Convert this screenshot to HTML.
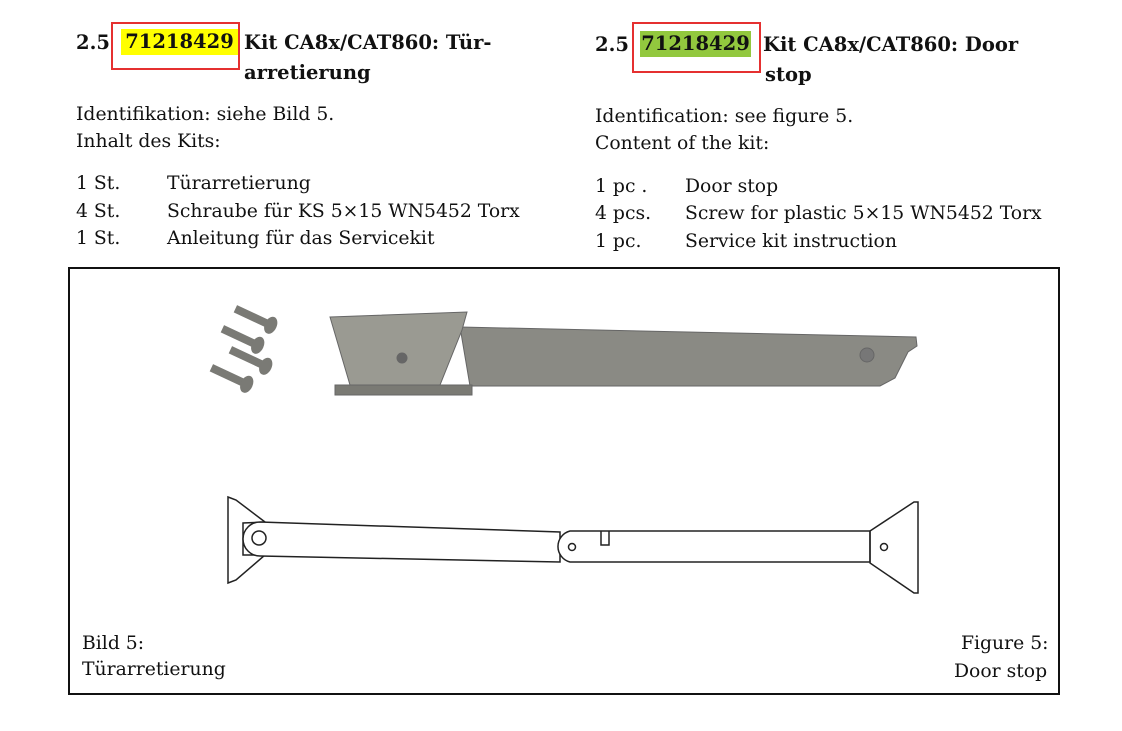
<!DOCTYPE html>
<html><head><meta charset="utf-8"><style>
body{margin:0;width:1122px;height:731px;background:#fff;position:relative;overflow:hidden;font-family:"DejaVu Serif","Liberation Serif",serif;color:#111}
.t{position:absolute;white-space:nowrap;font-size:18.8px;line-height:24px}
.h{position:absolute;font-weight:bold;font-size:19.5px;line-height:28px;white-space:nowrap}
</style></head><body>
<div class="h" style="left:76px;top:29px">2.5</div>
<div class="h" style="left:121px;top:29px;background:#ffff00;width:117px;height:26px;line-height:26px;text-align:center">71218429</div>
<div class="h" style="left:244px;top:29px">Kit CA8x/CAT860: Tür-</div>
<div class="h" style="left:244px;top:59px">arretierung</div>
<div class="h" style="left:595px;top:31px">2.5</div>
<div class="h" style="left:640px;top:31px;background:#92c83e;width:111px;height:26px;line-height:26px;text-align:center">71218429</div>
<div class="h" style="left:763px;top:31px">Kit CA8x/CAT860: Door</div>
<div class="h" style="left:765px;top:61px">stop</div>
<div style="position:absolute;left:111px;top:22px;width:129px;height:48px;border:2px solid #e53030;box-sizing:border-box"></div>
<div style="position:absolute;left:632px;top:22px;width:129px;height:51px;border:2px solid #e53030;box-sizing:border-box"></div>

<div class="t" style="left:76px;top:103px">Identifikation: siehe Bild 5.</div>
<div class="t" style="left:76px;top:130px">Inhalt des Kits:</div>
<div class="t" style="left:76px;top:172px">1 St.</div><div class="t" style="left:167px;top:172px">Türarretierung</div>
<div class="t" style="left:76px;top:200px">4 St.</div><div class="t" style="left:167px;top:200px">Schraube für KS 5×15 WN5452 Torx</div>
<div class="t" style="left:76px;top:227px">1 St.</div><div class="t" style="left:167px;top:227px">Anleitung für das Servicekit</div>

<div class="t" style="left:595px;top:105px">Identification: see figure 5.</div>
<div class="t" style="left:595px;top:132px">Content of the kit:</div>
<div class="t" style="left:595px;top:175px">1 pc .</div><div class="t" style="left:685px;top:175px">Door stop</div>
<div class="t" style="left:595px;top:202px">4 pcs.</div><div class="t" style="left:685px;top:202px">Screw for plastic 5×15 WN5452 Torx</div>
<div class="t" style="left:595px;top:230px">1 pc.</div><div class="t" style="left:685px;top:230px">Service kit instruction</div>

<div style="position:absolute;left:68px;top:267px;width:992px;height:428px;border:2px solid #111;box-sizing:border-box"></div>
<div class="t" style="left:82px;top:632px">Bild 5:</div>
<div class="t" style="left:82px;top:658px">Türarretierung</div>
<div class="t" style="left:961px;top:632px">Figure 5:</div>
<div class="t" style="left:954px;top:660px">Door stop</div>

<svg style="position:absolute;left:0;top:0" width="1122" height="731">
<g fill="#8a8a84" stroke="#666" stroke-width="1">
 <polygon points="460,327 916,337 917,346 908,352 895,378 880,386 470,386"/>
 <polygon points="330,317 467,312 462,330 440,385 350,385" fill="#9a9a92"/>
 <polygon points="335,385 472,385 472,395 335,395" fill="#7a7a74"/>
 <circle cx="867" cy="355" r="7" fill="#777"/>
 <circle cx="402" cy="358" r="5" fill="#666"/>
</g>
<g fill="#7a7a75">
 <g transform="translate(268,324) rotate(25)"><rect x="-36" y="-4" width="36" height="8"/><ellipse cx="3" cy="0" rx="6" ry="9"/></g>
 <g transform="translate(255,344) rotate(25)"><rect x="-36" y="-4" width="36" height="8"/><ellipse cx="3" cy="0" rx="6" ry="9"/></g>
 <g transform="translate(263,365) rotate(25)"><rect x="-36" y="-4" width="36" height="8"/><ellipse cx="3" cy="0" rx="6" ry="9"/></g>
 <g transform="translate(244,383) rotate(25)"><rect x="-36" y="-4" width="36" height="8"/><ellipse cx="3" cy="0" rx="6" ry="9"/></g>
</g>
<g fill="none" stroke="#222" stroke-width="1.5">
 <polygon points="228,497 236,500 265,522 243,523 243,555 265,555 236,580 228,583"/>
 <path d="M260,522 L560,532 L560,562 L260,556 A17,17 0 0 1 260,522 Z" fill="#fff"/>
 <circle cx="259" cy="538" r="7"/>
 <path d="M570,531 L870,531 L870,562 L570,562 A16,16 0 0 1 570,531 Z" fill="#fff"/>
 <path d="M601,531 V545 H609 V531"/>
 <circle cx="572" cy="547" r="3.5"/>
 <polygon points="870,531 914,502 918,502 918,593 914,593 870,563"/>
 <circle cx="884" cy="547" r="3.5"/>
</g>
</svg>
</body></html>
